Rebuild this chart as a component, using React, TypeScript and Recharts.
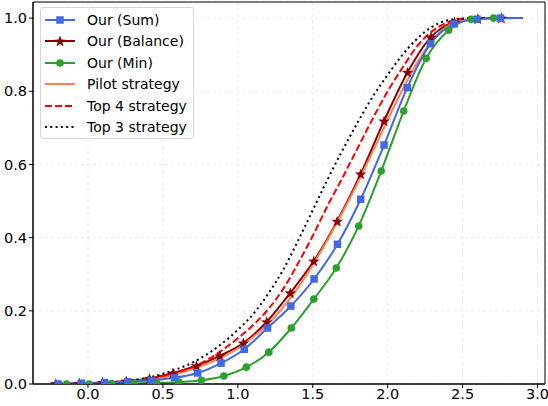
import React from 'react';
import { LineChart, Line, XAxis, YAxis, CartesianGrid, ReferenceArea } from 'recharts';

// marker positions (plus one trailing point where the curve flattens out)
const sumX = [-0.2, -0.045, 0.111, 0.266, 0.422, 0.577, 0.732, 0.888, 1.043, 1.198, 1.354, 1.509, 1.665, 1.82, 1.976, 2.131, 2.286, 2.442, 2.597, 2.753, 2.9];
const sumY = [0.0, 0.002, 0.004, 0.006, 0.01, 0.017, 0.03, 0.057, 0.095, 0.153, 0.213, 0.287, 0.382, 0.505, 0.653, 0.81, 0.93, 0.984, 0.997, 1.0, 1.0];

const balanceX = [-0.215, -0.058, 0.098, 0.255, 0.411, 0.567, 0.724, 0.88, 1.037, 1.193, 1.35, 1.507, 1.663, 1.82, 1.976, 2.133, 2.289, 2.446, 2.602, 2.759, 2.9];
const balanceY = [0.001, 0.002, 0.004, 0.008, 0.015, 0.03, 0.05, 0.077, 0.112, 0.17, 0.249, 0.336, 0.445, 0.574, 0.719, 0.852, 0.948, 0.989, 0.998, 1.0, 1.0];

const minX = [-0.143, 0.007, 0.157, 0.307, 0.457, 0.607, 0.757, 0.907, 1.057, 1.207, 1.357, 1.507, 1.657, 1.807, 1.957, 2.107, 2.257, 2.407, 2.557, 2.707, 2.9];
const minY = [0.0, 0.0, 0.001, 0.002, 0.003, 0.005, 0.01, 0.022, 0.046, 0.087, 0.153, 0.232, 0.317, 0.432, 0.582, 0.746, 0.89, 0.967, 0.997, 1.0, 1.0];

const MARKED = 20;

// baselines without markers
const baseX = [-0.24, 0.0, 0.25, 0.5, 0.75, 1.0, 1.1, 1.2, 1.3, 1.4, 1.5, 1.6, 1.7, 1.8, 1.9, 2.0, 2.1, 2.2, 2.3, 2.4, 2.5, 2.6, 2.9];
const pilotY = [0.0, 0.001, 0.006, 0.018, 0.048, 0.097, 0.128, 0.163, 0.208, 0.262, 0.325, 0.395, 0.47, 0.55, 0.635, 0.722, 0.805, 0.88, 0.94, 0.978, 0.994, 0.999, 1.0];
const top4Y = [0.0, 0.001, 0.006, 0.022, 0.056, 0.125, 0.16, 0.203, 0.258, 0.328, 0.405, 0.488, 0.565, 0.645, 0.725, 0.8, 0.865, 0.925, 0.965, 0.988, 0.998, 1.0, 1.0];
const top3Y = [0.0, 0.002, 0.008, 0.028, 0.07, 0.148, 0.19, 0.245, 0.31, 0.39, 0.475, 0.56, 0.64, 0.715, 0.785, 0.845, 0.9, 0.945, 0.977, 0.994, 0.999, 1.0, 1.0];

const xTicks = [0, 0.5, 1.0, 1.5, 2.0, 2.5, 3.0];
const yTicks = [0, 0.2, 0.4, 0.6, 0.8, 1.0];

const X_MIN = -0.367;
const X_MAX = 3.05;
const Y_MAX = 1.044;

const toRows = (xs: number[], ys: number[], marked = 0) =>
  xs.map((x, i) => ({ x, y: ys[i], m: i < marked }));

const sumData = toRows(sumX, sumY, MARKED);
const balanceData = toRows(balanceX, balanceY, MARKED);
const minData = toRows(minX, minY, MARKED);
const pilotData = toRows(baseX, pilotY);
const top4Data = toRows(baseX, top4Y);
const top3Data = toRows(baseX, top3Y);

const BLUE = '#4169e1';
const DARKRED = '#8b0000';
const GREEN = '#2ca02c';
const CORAL = '#ff7f50';

const starPath = (cx: number, cy: number, ro: number, ri: number) => {
  let d = '';
  for (let i = 0; i < 10; i++) {
    const r = i % 2 === 0 ? ro : ri;
    const a = -Math.PI / 2 + (i * Math.PI) / 5;
    d += `${i === 0 ? 'M' : 'L'}${cx + r * Math.cos(a)},${cy + r * Math.sin(a)}`;
  }
  return d + 'Z';
};

const Square = ({ cx, cy }: { cx: number; cy: number }) => (
  <rect x={cx - 3.75} y={cy - 3.75} width={7.5} height={7.5} fill={BLUE} />
);
const Star = ({ cx, cy }: { cx: number; cy: number }) => (
  <path d={starPath(cx, cy + 0.5, 6, 2.5)} fill={DARKRED} />
);
const Dot = ({ cx, cy }: { cx: number; cy: number }) => (
  <circle cx={cx} cy={cy} r={3.8} fill={GREEN} />
);

const markerDot = (Shape: React.FC<{ cx: number; cy: number }>) => (props: any) => {
  const { cx, cy, payload, index } = props;
  if (!payload?.m || cx == null || cy == null) return <g key={`e-${index}`} />;
  return <Shape key={`m-${index}`} cx={cx} cy={cy} />;
};

const legendItems = [
  { name: 'Our (Sum)', color: BLUE, dash: undefined, marker: 'square' },
  { name: 'Our (Balance)', color: DARKRED, dash: undefined, marker: 'star' },
  { name: 'Our (Min)', color: GREEN, dash: undefined, marker: 'circle' },
  { name: 'Pilot strategy', color: CORAL, dash: undefined, marker: '' },
  { name: 'Top 4 strategy', color: '#ff0000', dash: '7 3', marker: '' },
  { name: 'Top 3 strategy', color: '#000000', dash: '2 3.3', marker: '' },
];

const tickStyle = { fill: '#000', fontSize: 14.5, fontFamily: 'DejaVu Sans' };

export default function App() {
  return (
    <div style={{ position: 'relative', width: 548, height: 406, fontFamily: 'DejaVu Sans', background: '#fff' }}>
      <style>{'body{margin:0}'}</style>
      <LineChart width={548} height={406} margin={{ top: 2, right: 3, left: 0, bottom: 0 }}>
        <CartesianGrid stroke="#ebebeb" strokeDasharray="3 3" />
        <XAxis
          type="number"
          dataKey="x"
          domain={[X_MIN, X_MAX]}
          ticks={xTicks}
          tickFormatter={(v: number) => v.toFixed(1)}
          allowDataOverflow
          height={22}
          tickSize={4}
          tickMargin={1}
          tick={tickStyle}
          stroke="#000"
        />
        <YAxis
          type="number"
          dataKey="y"
          domain={[0, Y_MAX]}
          ticks={yTicks}
          tickFormatter={(v: number) => v.toFixed(1)}
          allowDataOverflow
          width={33}
          tickSize={4}
          tickMargin={2}
          tick={tickStyle}
          stroke="#000"
        />
        <Line data={balanceData} dataKey="y" type="monotone" stroke={DARKRED} strokeWidth={2} dot={markerDot(Star)} isAnimationActive={false} />
        <Line data={minData} dataKey="y" type="monotone" stroke={GREEN} strokeWidth={2} dot={markerDot(Dot)} isAnimationActive={false} />
        <Line data={pilotData} dataKey="y" type="monotone" stroke={CORAL} strokeWidth={2} dot={false} isAnimationActive={false} />
        <Line data={top4Data} dataKey="y" type="monotone" stroke="#ff0000" strokeWidth={2} strokeDasharray="7 3" dot={false} isAnimationActive={false} />
        <Line data={top3Data} dataKey="y" type="monotone" stroke="#000" strokeWidth={2} strokeDasharray="2 3.3" dot={false} isAnimationActive={false} />
        <Line data={sumData} dataKey="y" type="monotone" stroke={BLUE} strokeWidth={2} dot={markerDot(Square)} isAnimationActive={false} />
        <ReferenceArea x1={X_MIN} x2={X_MAX} y1={0} y2={Y_MAX} fill="none" stroke="#000" strokeWidth={1} strokeOpacity={1} />
      </LineChart>

      {/* legend box, upper left like matplotlib */}
      <div
        style={{
          position: 'absolute',
          left: 40,
          top: 7,
          width: 154,
          height: 132,
          boxSizing: 'border-box',
          border: '1px solid #d4d4d4',
          borderRadius: 3,
          background: 'rgba(255,255,255,0.8)',
        }}
      >
        {legendItems.map((it, i) => (
          <div key={it.name} style={{ position: 'absolute', left: 4, top: 4 + i * 21.4, height: 16, display: 'flex', alignItems: 'center' }}>
            <svg width={30} height={16} style={{ display: 'block' }}>
              <line x1={0} x2={30} y1={8} y2={8} stroke={it.color} strokeWidth={2} strokeDasharray={it.dash} />
              {it.marker === 'square' && <rect x={11.25} y={4.25} width={7.5} height={7.5} fill={it.color} />}
              {it.marker === 'star' && <path d={starPath(15, 8.5, 6, 2.5)} fill={it.color} />}
              {it.marker === 'circle' && <circle cx={15} cy={8} r={3.8} fill={it.color} />}
            </svg>
            <span style={{ marginLeft: 12, fontSize: 14, color: '#000', whiteSpace: 'nowrap', lineHeight: '16px' }}>{it.name}</span>
          </div>
        ))}
      </div>
    </div>
  );
}
